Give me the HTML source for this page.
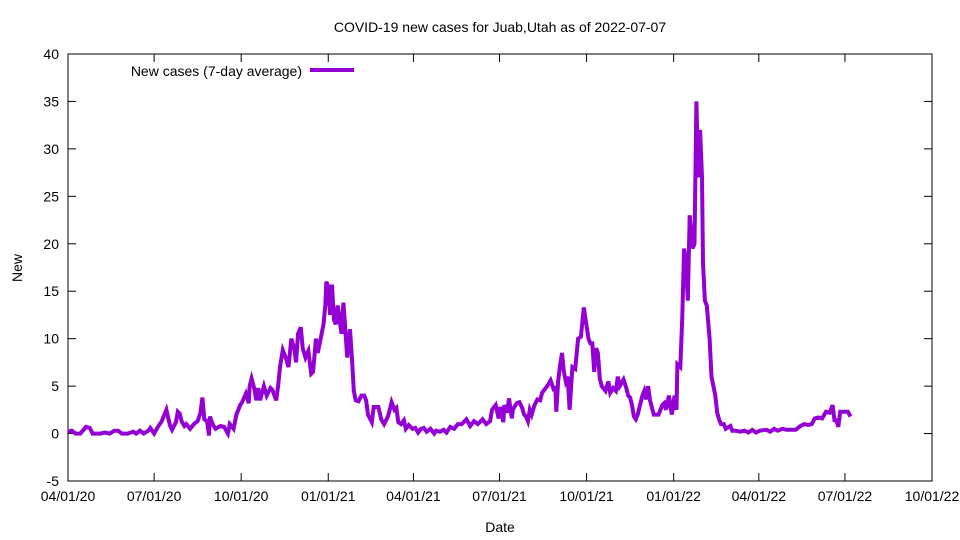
<!DOCTYPE html>
<html><head><meta charset="utf-8"><style>
body{margin:0;background:#fff}
svg{display:block;font-family:"Liberation Sans",Arial,sans-serif}
</style></head><body>
<svg id="chart" width="960" height="540" viewBox="0 0 960 540" xmlns="http://www.w3.org/2000/svg">
<text x="500" y="32" font-size="14" text-anchor="middle">COVID-19 new cases for Juab,Utah as of 2022-07-07</text>
<text transform="translate(22,268) rotate(-90)" font-size="14" text-anchor="middle">New</text>
<text x="500" y="532" font-size="14" text-anchor="middle">Date</text>
<g id="axes"></g>
<g id="series"></g>
<g>
<text x="302" y="76" font-size="14" text-anchor="end">New cases (7-day average)</text>
<line x1="310" y1="70" x2="354" y2="70" stroke="#9400d3" stroke-width="4"/>
</g>
</svg>
<script>
const yTicks=[-5,0,5,10,15,20,25,30,35,40];
const xTickLabels=["04/01/20","07/01/20","10/01/20","01/01/21","04/01/21","07/01/21","10/01/21","01/01/22","04/01/22","07/01/22","10/01/22"];
const xTickDays=[0,91,183,275,365,456,548,640,730,821,913];
const days=[0,4,8,13,19,23,26,34,39,44,49,53,57,63,69,72,76,80,85,87,91,95,99,104,106,108,110,114,116,118,120,123,125,129,133,137,140,142,144,147,149,150,152,154,156,161,165,169,171,175,178,182,184,188,191,192,194,197,199,201,203,205,207,210,214,216,220,222,224,227,230,233,236,239,241,243,246,248,251,254,257,259,262,264,266,270,272,273,275,277,279,281,283,285,289,291,293,295,297,298,300,302,304,307,310,313,315,317,319,321,323,328,331,334,338,340,342,345,347,349,352,355,357,360,364,367,370,373,376,379,383,387,389,393,397,400,404,408,412,416,421,425,429,433,438,442,446,448,452,455,457,460,461,464,466,469,470,474,477,480,482,484,486,488,490,493,496,499,501,504,507,510,513,515,516,518,520,522,524,526,528,530,533,536,539,542,545,550,552,554,556,558,560,562,564,568,571,573,576,579,581,583,587,590,592,594,596,598,600,602,607,609,611,613,615,619,624,628,630,632,635,638,641,643,644,647,649,651,653,655,657,660,662,664,666,668,670,671,673,675,678,680,682,684,686,688,690,693,695,700,702,706,710,715,719,723,727,731,738,742,746,750,755,759,763,769,774,778,782,786,789,793,797,801,805,808,810,812,814,816,820,824,827];
const cases=[0.2,0.3,0,0,0.7,0.6,0,0,0.1,0,0.3,0.3,0,0,0.2,0,0.3,0,0.3,0.6,0,0.7,1.3,2.5,1.6,0.8,0.4,1.2,2.3,2.1,1.3,0.8,1,0.5,1,1.3,2.2,3.8,1.5,1.3,-0.2,1.8,1.2,0.8,0.5,0.8,0.7,0,1,0.5,2,3,3.3,4.2,3.2,5,5.8,4.7,3.5,4.8,3.5,4.3,5,4,4.8,4.6,3.5,5,7,8.8,8,7,10,9,7.5,10.5,11.2,9,8,8.7,6.3,6.5,10,8.5,9.5,11.5,13.6,16,15.5,12.5,15.7,12,11.5,13.5,10.5,13.8,11,8,10,11,8,4.5,3.5,3.4,4,4,3.5,2,1.6,1.2,2.8,2.8,1.5,1,1.8,2.5,3.3,2.5,2.7,1.2,1,1.4,0.5,0.9,0.5,0.6,0.1,0.5,0.6,0.2,0.5,0,0.3,0.2,0.4,0.1,0.7,0.5,1,1,1.5,0.8,1.3,1,1.5,1,1.3,2.5,3,1.6,2.8,1.2,3,2.2,3.7,1.6,2.5,3.2,3.3,2.7,2,1.8,1.3,2.5,2,3,3.6,3.5,4.3,4.7,5.1,5.6,4.7,4.8,2.3,5.6,7.2,8.5,6.5,5.5,6,2.5,7,6.8,10,10.2,13.3,10,9.5,9.5,6.5,9,8.5,5.8,5,4.5,5.5,4.3,4.8,4.5,6,5,5.7,4.8,4,3.8,3,1.8,1.5,2,4,4.5,3.6,5,3.5,2,2,3,3.2,2.5,4,2,4,2.5,7.3,7,12,19.5,18,14,23,19.5,20,35,27,32,27,18,14,13.5,10,6,5,4,2.2,1.5,1,1,0.5,0.8,0.3,0.3,0.2,0.3,0.1,0.4,0.1,0.3,0.4,0.2,0.5,0.3,0.5,0.4,0.4,0.4,0.8,1,0.9,1,1.6,1.7,1.6,2.3,2.2,3,1.4,1.4,0.7,2.3,2.3,2.3,1.8];

const L=68,R=932,T=54,B=481,NS="http://www.w3.org/2000/svg";
const xs=d=>L+(R-L)*d/913;
const ys=v=>B-(B-T)*(v+5)/45;
function mk(tag,attrs,parent){const e=document.createElementNS(NS,tag);for(const k in attrs)e.setAttribute(k,attrs[k]);parent.appendChild(e);return e;}
const ax=document.getElementById('axes');
const frame=mk('rect',{x:L,y:T,width:R-L,height:B-T,fill:'none',stroke:'#000','stroke-width':1},ax);


yTicks.forEach(v=>{
  const y=ys(v);
  const t1=mk('line',{x1:L,y1:y,x2:L+8,y2:y,stroke:'#000'},ax);
  
  
  const t2=mk('line',{x1:R,y1:y,x2:R-8,y2:y,stroke:'#000'},ax);
  
  
  const tx=mk('text',{x:L-9,y:y+5,'font-size':14,'text-anchor':'end'},ax);
  tx.textContent=v;
  
  
});
xTickDays.forEach((d,i)=>{
  const x=xs(d);
  const t1=mk('line',{x1:x,y1:B,x2:x,y2:B-8,stroke:'#000'},ax);
  
  
  const t2=mk('line',{x1:x,y1:T,x2:x,y2:T+8,stroke:'#000'},ax);
  
  
  const tx=mk('text',{x:x,y:B+20,'font-size':14,'text-anchor':'middle'},ax);
  tx.textContent=xTickLabels[i];
  
  
});
const pts=days.map((d,i)=>xs(d).toFixed(1)+','+ys(cases[i]).toFixed(1)).join(' ');
const line=mk('polyline',{points:pts,fill:'none',stroke:'#9400d3','stroke-width':4,'stroke-linejoin':'miter'},document.getElementById('series'));


</script>
</body></html>
